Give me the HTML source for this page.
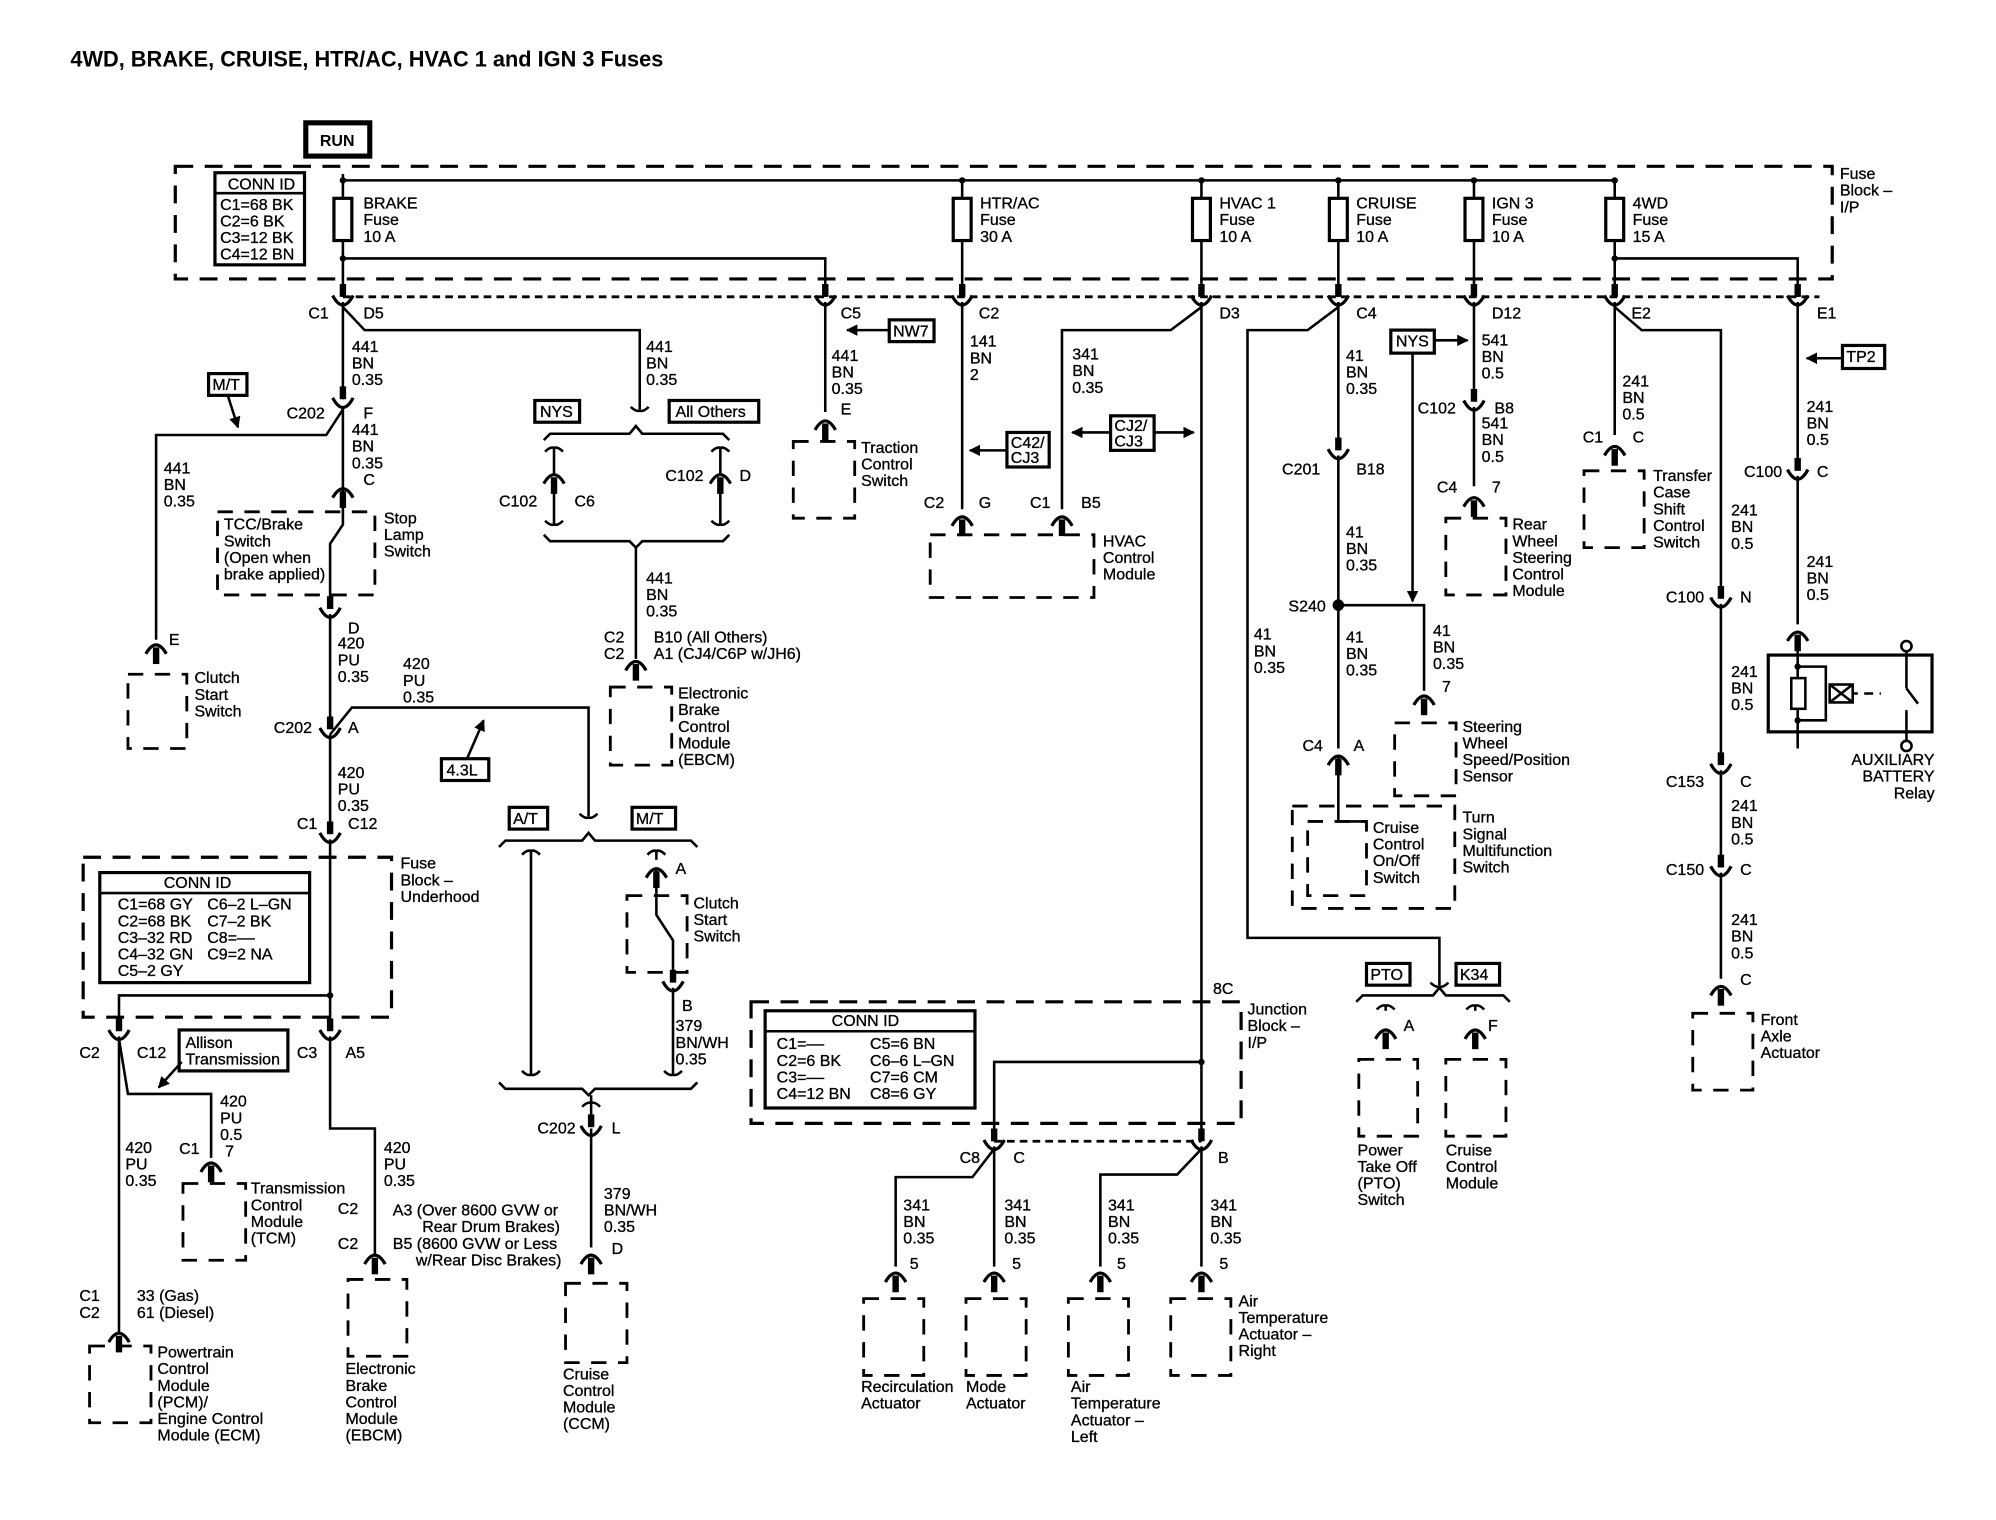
<!DOCTYPE html>
<html><head><meta charset="utf-8"><style>
html,body{margin:0;padding:0;background:#fff}
svg{display:block}
text{font-family:"Liberation Sans",Arial,sans-serif;font-size:12.5px;fill:#000;stroke:#000;stroke-width:0.25}
.w{fill:none;stroke:#000;stroke-width:2}
.d{fill:none;stroke:#000;stroke-width:2.5;stroke-dasharray:14 9}
.dd{fill:none;stroke:#000;stroke-width:2.2;stroke-dasharray:6 4}
.cd{fill:none;stroke:#000;stroke-width:2.2;stroke-dasharray:12 9}
.bx{fill:#fff;stroke:#000;stroke-width:2.5}
</style></head><body>
<svg width="1996" height="1520" viewBox="0 0 1560 1188" preserveAspectRatio="none" xmlns="http://www.w3.org/2000/svg">
<defs>
<g id="f"><rect x="-2.5" y="-14" width="5" height="10" fill="#000"/><path d="M-8,-5 Q0,10 8,-5" fill="none" stroke="#000" stroke-width="2.5"/></g>
<g id="m"><path d="M-8,6 Q0,-8 8,6" fill="none" stroke="#000" stroke-width="2.5"/><rect x="-2.5" y="1" width="5" height="13" fill="#000"/></g>
<g id="t"><path d="M-7,3 Q-3,-1 0,0 Q3,-1 7,3" fill="none" stroke="#000" stroke-width="2"/></g>
<g id="b"><path d="M-7,-3 Q-3,1 0,0 Q3,1 7,-3" fill="none" stroke="#000" stroke-width="2"/></g>
<marker id="ar" viewBox="0 0 10 10" refX="9" refY="5" markerWidth="9" markerHeight="9" orient="auto" markerUnits="userSpaceOnUse"><path d="M0,0 L10,5 L0,10z" fill="#000"/></marker>
</defs>

<text x="55" y="52" style="font-size:17px;font-weight:bold;stroke-width:0">4WD, BRAKE, CRUISE, HTR/AC, HVAC 1 and IGN 3 Fuses</text>

<!-- RUN -->
<rect x="239" y="96" width="50" height="26" fill="#fff" stroke="#000" stroke-width="4"/>
<text x="250" y="114" style="font-weight:bold;stroke-width:0">RUN</text>

<!-- Fuse block I/P -->
<rect x="137" y="130" width="1295" height="88" class="d"/>
<text x="1438" y="140">Fuse<tspan x="1438" dy="13">Block –</tspan><tspan x="1438" dy="13">I/P</tspan></text>
<rect x="168" y="135" width="70" height="72" class="bx" stroke-width="2"/>
<line x1="168" y1="151" x2="238" y2="151" class="w"/>
<text x="178" y="148">CONN ID</text>
<text x="172" y="164">C1=68 BK<tspan x="172" dy="13">C2=6 BK</tspan><tspan x="172" dy="13">C3=12 BK</tspan><tspan x="172" dy="13">C4=12 BN</tspan></text>

<line x1="268" y1="141" x2="1262" y2="141" class="w"/>
<line x1="268" y1="136" x2="268" y2="232" class="w"/>
<g fill="#000"><circle cx="268" cy="141" r="2.5"/><circle cx="752" cy="141" r="2.5"/><circle cx="939" cy="141" r="2.5"/><circle cx="1046" cy="141" r="2.5"/><circle cx="1152" cy="141" r="2.5"/><circle cx="1262" cy="141" r="2.5"/><circle cx="268" cy="202" r="2.5"/><circle cx="1262" cy="202" r="2.5"/></g>
<g class="w">
<line x1="752" y1="141" x2="752" y2="232"/><line x1="939" y1="141" x2="939" y2="232"/><line x1="1046" y1="141" x2="1046" y2="232"/><line x1="1152" y1="141" x2="1152" y2="232"/><line x1="1262" y1="141" x2="1262" y2="232"/>
<polyline points="268,202 645,202 645,232"/><polyline points="1262,202 1405,202 1405,232"/>
</g>
<g fill="#fff" stroke="#000" stroke-width="2.5">
<rect x="261" y="155" width="14" height="33"/><rect x="745" y="155" width="14" height="33"/><rect x="932" y="155" width="14" height="33"/><rect x="1039" y="155" width="14" height="33"/><rect x="1145" y="155" width="14" height="33"/><rect x="1255" y="155" width="14" height="33"/>
</g>
<text x="284" y="163">BRAKE<tspan x="284" dy="13">Fuse</tspan><tspan x="284" dy="13">10 A</tspan></text>
<text x="766" y="163">HTR/AC<tspan x="766" dy="13">Fuse</tspan><tspan x="766" dy="13">30 A</tspan></text>
<text x="953" y="163">HVAC 1<tspan x="953" dy="13">Fuse</tspan><tspan x="953" dy="13">10 A</tspan></text>
<text x="1060" y="163">CRUISE<tspan x="1060" dy="13">Fuse</tspan><tspan x="1060" dy="13">10 A</tspan></text>
<text x="1166" y="163">IGN 3<tspan x="1166" dy="13">Fuse</tspan><tspan x="1166" dy="13">10 A</tspan></text>
<text x="1276" y="163">4WD<tspan x="1276" dy="13">Fuse</tspan><tspan x="1276" dy="13">15 A</tspan></text>

<line x1="268" y1="232" x2="1422" y2="232" class="dd"/>
<g><use href="#f" x="268" y="236"/><use href="#f" x="645" y="236"/><use href="#f" x="752" y="236"/><use href="#f" x="939" y="236"/><use href="#f" x="1046" y="236"/><use href="#f" x="1152" y="236"/><use href="#f" x="1262" y="236"/><use href="#f" x="1405" y="236"/></g>
<text x="241" y="249">C1</text><text x="284" y="249">D5</text><text x="657" y="249">C5</text><text x="765" y="249">C2</text><text x="953" y="249">D3</text><text x="1060" y="249">C4</text><text x="1166" y="249">D12</text><text x="1275" y="249">E2</text><text x="1420" y="249">E1</text>

<!-- BRAKE column -->
<g class="w">
<line x1="268" y1="236" x2="268" y2="312"/>
<polyline points="268,240 285,258 500,258 500,320"/>
<polyline points="268,320 255,340 122,340 122,500"/>
<line x1="268" y1="318" x2="268" y2="385"/>
<polyline points="268,392 268,410 258,425 258,472"/>
<line x1="258" y1="480" x2="258" y2="565"/>
<polyline points="258,574 275,553 460,553 460,638"/>
<line x1="258" y1="574" x2="258" y2="650"/>
<line x1="258" y1="656" x2="258" y2="805"/>
<polyline points="258,778 93,778 93,805"/>
</g>
<use href="#b" x="500" y="321"/>
<use href="#f" x="268" y="316"/>
<text x="275" y="275">441<tspan x="275" dy="13">BN</tspan><tspan x="275" dy="13">0.35</tspan></text>
<text x="505" y="275">441<tspan x="505" dy="13">BN</tspan><tspan x="505" dy="13">0.35</tspan></text>
<text x="224" y="327">C202</text><text x="284" y="327">F</text>
<text x="275" y="340">441<tspan x="275" dy="13">BN</tspan><tspan x="275" dy="13">0.35</tspan></text>
<text x="128" y="370">441<tspan x="128" dy="13">BN</tspan><tspan x="128" dy="13">0.35</tspan></text>
<rect x="163" y="292" width="30" height="17" class="bx" stroke-width="2"/><text x="166" y="305">M/T</text>
<line x1="178" y1="309" x2="186" y2="334" class="w" marker-end="url(#ar)"/>
<use href="#m" x="268" y="383"/><text x="284" y="379">C</text>
<rect x="170" y="400" width="123" height="65" class="cd"/>
<text x="175" y="414">TCC/Brake<tspan x="175" dy="13">Switch</tspan><tspan x="175" dy="13">(Open when</tspan><tspan x="175" dy="13">brake applied)</tspan></text>
<text x="300" y="409">Stop<tspan x="300" dy="13">Lamp</tspan><tspan x="300" dy="13">Switch</tspan></text>
<use href="#f" x="258" y="480"/><text x="272" y="495">D</text>
<use href="#m" x="122" y="505"/><text x="132" y="504">E</text>
<rect x="100" y="527" width="46" height="58" class="cd"/>
<text x="152" y="534">Clutch<tspan x="152" dy="13">Start</tspan><tspan x="152" dy="13">Switch</tspan></text>
<text x="264" y="507">420<tspan x="264" dy="13">PU</tspan><tspan x="264" dy="13">0.35</tspan></text>
<text x="315" y="523">420<tspan x="315" dy="13">PU</tspan><tspan x="315" dy="13">0.35</tspan></text>
<use href="#f" x="258" y="574"/><text x="214" y="573">C202</text><text x="272" y="573">A</text>
<rect x="345" y="593" width="37" height="17" class="bx" stroke-width="2"/><text x="349" y="606">4.3L</text>
<line x1="365" y1="593" x2="378" y2="563" class="w" marker-end="url(#ar)"/>
<text x="264" y="608">420<tspan x="264" dy="13">PU</tspan><tspan x="264" dy="13">0.35</tspan></text>
<use href="#f" x="258" y="656"/><text x="232" y="648">C1</text><text x="272" y="648">C12</text>

<!-- Fuse block underhood -->
<rect x="65" y="670" width="241" height="125" class="d"/>
<text x="313" y="679">Fuse<tspan x="313" dy="13">Block –</tspan><tspan x="313" dy="13">Underhood</tspan></text>
<rect x="78" y="682" width="164" height="86" class="bx" stroke-width="2"/>
<line x1="78" y1="698" x2="242" y2="698" class="w"/>
<text x="128" y="694">CONN ID</text>
<text x="92" y="711">C1=68 GY<tspan x="92" dy="13">C2=68 BK</tspan><tspan x="92" dy="13">C3–32 RD</tspan><tspan x="92" dy="13">C4–32 GN</tspan><tspan x="92" dy="13">C5–2 GY</tspan></text>
<text x="162" y="711">C6–2 L–GN<tspan x="162" dy="13">C7–2 BK</tspan><tspan x="162" dy="13">C8=––</tspan><tspan x="162" dy="13">C9=2 NA</tspan></text>
<circle cx="258" cy="778" r="2.5"/>
<use href="#f" x="93" y="810"/><use href="#f" x="258" y="810"/>
<text x="62" y="827">C2</text><text x="107" y="827">C12</text><text x="232" y="827">C3</text><text x="270" y="827">A5</text>
<rect x="140" y="805" width="85" height="32" class="bx" stroke-width="2"/>
<text x="145" y="819">Allison<tspan x="145" dy="13">Transmission</tspan></text>
<line x1="142" y1="830" x2="124" y2="850" class="w" marker-end="url(#ar)"/>
<g class="w">
<line x1="93" y1="810" x2="93" y2="1042"/>
<polyline points="93,812 100,855 165,855 165,905"/>
<polyline points="258,810 258,882 293,882 293,980"/>
</g>
<text x="172" y="865">420<tspan x="172" dy="13">PU</tspan><tspan x="172" dy="13">0.5</tspan><tspan x="176" dy="13">7</tspan></text>
<text x="98" y="901">420<tspan x="98" dy="13">PU</tspan><tspan x="98" dy="13">0.35</tspan></text>
<text x="140" y="902">C1</text>
<use href="#m" x="165" y="910"/>
<rect x="143" y="925" width="49" height="60" class="cd"/>
<text x="196" y="933">Transmission<tspan x="196" dy="13">Control</tspan><tspan x="196" dy="13">Module</tspan><tspan x="196" dy="13">(TCM)</tspan></text>
<text x="62" y="1017">C1<tspan x="62" dy="13">C2</tspan></text>
<text x="107" y="1017">33 (Gas)<tspan x="107" dy="13">61 (Diesel)</tspan></text>
<use href="#m" x="93" y="1043"/>
<rect x="70" y="1052" width="48" height="60" class="cd"/>
<text x="123" y="1061">Powertrain<tspan x="123" dy="13">Control</tspan><tspan x="123" dy="13">Module</tspan><tspan x="123" dy="13">(PCM)/</tspan><tspan x="123" dy="13">Engine Control</tspan><tspan x="123" dy="13">Module (ECM)</tspan></text>
<text x="300" y="901">420<tspan x="300" dy="13">PU</tspan><tspan x="300" dy="13">0.35</tspan></text>
<text x="264" y="949">C2</text><text x="264" y="976">C2</text>
<text x="307" y="950">A3 (Over 8600 GVW or<tspan x="330" dy="13">Rear Drum Brakes)</tspan><tspan x="307" dy="13">B5 (8600 GVW or Less</tspan><tspan x="325" dy="13">w/Rear Disc Brakes)</tspan></text>
<use href="#m" x="293" y="982"/>
<rect x="272" y="1000" width="46" height="60" class="cd"/>
<text x="270" y="1074">Electronic<tspan x="270" dy="13">Brake</tspan><tspan x="270" dy="13">Control</tspan><tspan x="270" dy="13">Module</tspan><tspan x="270" dy="13">(EBCM)</tspan></text>

<!-- NYS / All Others -->
<rect x="418" y="313" width="35" height="17" class="bx" stroke-width="2"/><text x="422" y="326">NYS</text>
<rect x="523" y="313" width="70" height="17" class="bx" stroke-width="2"/><text x="528" y="326">All Others</text>
<g class="w">
<polyline points="425,344 430,339 492,339 497,333 502,339 565,339 570,344"/>
<polyline points="425,418 430,423 492,423 497,428 502,423 565,423 570,418"/>
<line x1="433" y1="350" x2="433" y2="370"/><line x1="433" y1="385" x2="433" y2="410"/>
<line x1="563" y1="350" x2="563" y2="370"/><line x1="563" y1="385" x2="563" y2="410"/>
<line x1="497" y1="428" x2="497" y2="515"/>
</g>
<use href="#t" x="433" y="350"/><use href="#b" x="433" y="410"/><use href="#t" x="563" y="350"/><use href="#b" x="563" y="410"/>
<use href="#m" x="433" y="372"/><use href="#m" x="563" y="372"/>
<text x="390" y="396">C102</text><text x="449" y="396">C6</text>
<text x="520" y="376">C102</text><text x="578" y="376">D</text>
<text x="505" y="456">441<tspan x="505" dy="13">BN</tspan><tspan x="505" dy="13">0.35</tspan></text>
<text x="472" y="502">C2<tspan x="472" dy="13">C2</tspan></text>
<text x="511" y="502">B10 (All Others)<tspan x="511" dy="13">A1 (CJ4/C6P w/JH6)</tspan></text>
<use href="#m" x="497" y="518"/>
<rect x="477" y="537" width="48" height="61" class="cd"/>
<text x="530" y="546">Electronic<tspan x="530" dy="13">Brake</tspan><tspan x="530" dy="13">Control</tspan><tspan x="530" dy="13">Module</tspan><tspan x="530" dy="13">(EBCM)</tspan></text>

<!-- A/T M/T -->
<use href="#b" x="460" y="639"/>
<rect x="398" y="631" width="30" height="17" class="bx" stroke-width="2"/><text x="401" y="644">A/T</text>
<rect x="494" y="631" width="34" height="17" class="bx" stroke-width="2"/><text x="497" y="644">M/T</text>
<g class="w">
<polyline points="390,662 395,657 455,657 460,651 465,657 540,657 545,662"/>
<polyline points="390,846 395,851 455,851 460,856 465,851 540,851 545,846"/>
<line x1="415" y1="665" x2="415" y2="840"/>
<line x1="513" y1="665" x2="513" y2="672"/>
<polyline points="513,680 513,705 513,715 526,735 526,762"/>
<line x1="526" y1="772" x2="526" y2="840"/>
<line x1="462" y1="856" x2="462" y2="875"/>
<line x1="462" y1="882" x2="462" y2="975"/>
</g>
<use href="#t" x="415" y="665"/><use href="#b" x="415" y="840"/><use href="#t" x="513" y="665"/><use href="#b" x="526" y="840"/>
<use href="#m" x="513" y="680"/><text x="528" y="683">A</text>
<rect x="490" y="700" width="47" height="60" class="cd"/>
<text x="542" y="710">Clutch<tspan x="542" dy="13">Start</tspan><tspan x="542" dy="13">Switch</tspan></text>
<use href="#f" x="526" y="772"/><text x="533" y="790">B</text>
<text x="528" y="806">379<tspan x="528" dy="13">BN/WH</tspan><tspan x="528" dy="13">0.35</tspan></text>
<use href="#t" x="462" y="862"/>
<use href="#f" x="462" y="885"/><text x="420" y="886">C202</text><text x="478" y="886">L</text>
<text x="472" y="937">379<tspan x="472" dy="13">BN/WH</tspan><tspan x="472" dy="13">0.35</tspan></text>
<text x="478" y="980">D</text>
<use href="#m" x="462" y="982"/>
<rect x="442" y="1003" width="48" height="62" class="cd"/>
<text x="440" y="1078">Cruise<tspan x="440" dy="13">Control</tspan><tspan x="440" dy="13">Module</tspan><tspan x="440" dy="13">(CCM)</tspan></text>

<!-- C5 traction -->
<line x1="645" y1="236" x2="645" y2="322" class="w"/>
<text x="650" y="282">441<tspan x="650" dy="13">BN</tspan><tspan x="650" dy="13">0.35</tspan></text>
<rect x="695" y="250" width="35" height="17" class="bx" stroke-width="2"/><text x="698" y="263">NW7</text>
<line x1="695" y1="258" x2="662" y2="258" class="w" marker-end="url(#ar)"/>
<text x="657" y="324">E</text>
<use href="#m" x="645" y="330"/>
<rect x="620" y="345" width="48" height="60" class="cd"/>
<text x="673" y="354">Traction<tspan x="673" dy="13">Control</tspan><tspan x="673" dy="13">Switch</tspan></text>

<!-- HTR/AC HVAC -->
<line x1="752" y1="236" x2="752" y2="398" class="w"/>
<text x="758" y="271">141<tspan x="758" dy="13">BN</tspan><tspan x="758" dy="13">2</tspan></text>
<rect x="787" y="338" width="33" height="27" class="bx" stroke-width="2"/><text x="790" y="350">C42/<tspan x="790" dy="12">CJ3</tspan></text>
<line x1="787" y1="352" x2="758" y2="352" class="w" marker-end="url(#ar)"/>
<polyline points="939,240 915,258 830,258 830,398" class="w"/>
<text x="838" y="281">341<tspan x="838" dy="13">BN</tspan><tspan x="838" dy="13">0.35</tspan></text>
<rect x="868" y="325" width="34" height="27" class="bx" stroke-width="2"/><text x="871" y="337">CJ2/<tspan x="871" dy="12">CJ3</tspan></text>
<line x1="868" y1="338" x2="838" y2="338" class="w" marker-end="url(#ar)"/>
<line x1="902" y1="338" x2="933" y2="338" class="w" marker-end="url(#ar)"/>
<text x="722" y="397">C2</text><text x="765" y="397">G</text><text x="805" y="397">C1</text><text x="845" y="397">B5</text>
<use href="#m" x="752" y="405"/><use href="#m" x="830" y="405"/>
<rect x="727" y="418" width="128" height="49" class="cd"/>
<text x="862" y="427">HVAC<tspan x="862" dy="13">Control</tspan><tspan x="862" dy="13">Module</tspan></text>

<!-- HVAC1 to junction block -->
<line x1="939" y1="236" x2="939" y2="885" class="w"/>
<text x="948" y="777">8C</text>
<rect x="587" y="783" width="383" height="95" class="d"/>
<text x="975" y="793">Junction<tspan x="975" dy="13">Block –</tspan><tspan x="975" dy="13">I/P</tspan></text>
<rect x="598" y="790" width="164" height="76" class="bx" stroke-width="2"/>
<line x1="598" y1="806" x2="762" y2="806" class="w"/>
<text x="650" y="802">CONN ID</text>
<text x="607" y="820">C1=––<tspan x="607" dy="13">C2=6 BK</tspan><tspan x="607" dy="13">C3=––</tspan><tspan x="607" dy="13">C4=12 BN</tspan></text>
<text x="680" y="820">C5=6 BN<tspan x="680" dy="13">C6–6 L–GN</tspan><tspan x="680" dy="13">C7=6 CM</tspan><tspan x="680" dy="13">C8=6 GY</tspan></text>
<circle cx="939" cy="830" r="2.5"/>
<polyline points="939,830 777,830 777,885" class="w"/>
<line x1="777" y1="892" x2="939" y2="892" class="dd"/>
<use href="#f" x="777" y="896"/><use href="#f" x="939" y="896"/>
<text x="750" y="909">C8</text><text x="792" y="909">C</text><text x="952" y="909">B</text>
<g class="w">
<line x1="777" y1="896" x2="777" y2="990"/>
<polyline points="777,898 760,920 700,920 700,990"/>
<line x1="939" y1="896" x2="939" y2="990"/>
<polyline points="939,898 920,918 860,918 860,990"/>
</g>
<text x="706" y="946">341<tspan x="706" dy="13">BN</tspan><tspan x="706" dy="13">0.35</tspan></text>
<text x="785" y="946">341<tspan x="785" dy="13">BN</tspan><tspan x="785" dy="13">0.35</tspan></text>
<text x="866" y="946">341<tspan x="866" dy="13">BN</tspan><tspan x="866" dy="13">0.35</tspan></text>
<text x="946" y="946">341<tspan x="946" dy="13">BN</tspan><tspan x="946" dy="13">0.35</tspan></text>
<text x="711" y="992">5</text><text x="791" y="992">5</text><text x="873" y="992">5</text><text x="953" y="992">5</text>
<use href="#m" x="700" y="996"/><use href="#m" x="777" y="996"/><use href="#m" x="860" y="996"/><use href="#m" x="939" y="996"/>
<rect x="675" y="1015" width="47" height="60" class="cd"/><rect x="755" y="1015" width="47" height="60" class="cd"/><rect x="835" y="1015" width="47" height="60" class="cd"/><rect x="915" y="1015" width="47" height="60" class="cd"/>
<text x="673" y="1088">Recirculation<tspan x="673" dy="13">Actuator</tspan></text>
<text x="755" y="1088">Mode<tspan x="755" dy="13">Actuator</tspan></text>
<text x="837" y="1088">Air<tspan x="837" dy="13">Temperature</tspan><tspan x="837" dy="13">Actuator –</tspan><tspan x="837" dy="13">Left</tspan></text>
<text x="968" y="1021">Air<tspan x="968" dy="13">Temperature</tspan><tspan x="968" dy="13">Actuator –</tspan><tspan x="968" dy="13">Right</tspan></text>

<!-- CRUISE column -->
<g class="w">
<polyline points="1046,240 1022,258 975,258 975,733 1125,733 1125,770"/>
<line x1="1046" y1="236" x2="1046" y2="350"/>
<line x1="1046" y1="356" x2="1046" y2="585"/>
<polyline points="1046,473 1113,473 1113,540"/>
<line x1="1046" y1="592" x2="1046" y2="635"/>
</g>
<use href="#b" x="1125" y="771"/>
<text x="1052" y="282">41<tspan x="1052" dy="13">BN</tspan><tspan x="1052" dy="13">0.35</tspan></text>
<use href="#f" x="1046" y="356"/><text x="1002" y="371">C201</text><text x="1060" y="371">B18</text>
<text x="1052" y="420">41<tspan x="1052" dy="13">BN</tspan><tspan x="1052" dy="13">0.35</tspan></text>
<circle cx="1046" cy="473" r="4.5"/><text x="1007" y="478">S240</text>
<text x="980" y="500">41<tspan x="980" dy="13">BN</tspan><tspan x="980" dy="13">0.35</tspan></text>
<text x="1052" y="502">41<tspan x="1052" dy="13">BN</tspan><tspan x="1052" dy="13">0.35</tspan></text>
<text x="1120" y="497">41<tspan x="1120" dy="13">BN</tspan><tspan x="1120" dy="13">0.35</tspan></text>
<text x="1127" y="541">7</text>
<use href="#m" x="1113" y="545"/>
<rect x="1090" y="565" width="48" height="57" class="cd"/>
<text x="1143" y="572">Steering<tspan x="1143" dy="13">Wheel</tspan><tspan x="1143" dy="13">Speed/Position</tspan><tspan x="1143" dy="13">Sensor</tspan></text>
<text x="1018" y="587">C4</text><text x="1058" y="587">A</text>
<use href="#m" x="1046" y="592"/>
<rect x="1010" y="630" width="127" height="80" class="cd"/>
<rect x="1022" y="642" width="46" height="58" class="cd"/>
<line x1="1046" y1="635" x2="1046" y2="642" class="w"/><line x1="1046" y1="642" x2="1068" y2="642" class="w"/>
<text x="1073" y="651">Cruise<tspan x="1073" dy="13">Control</tspan><tspan x="1073" dy="13">On/Off</tspan><tspan x="1073" dy="13">Switch</tspan></text>
<text x="1143" y="643">Turn<tspan x="1143" dy="13">Signal</tspan><tspan x="1143" dy="13">Multifunction</tspan><tspan x="1143" dy="13">Switch</tspan></text>

<rect x="1087" y="258" width="34" height="18" class="bx" stroke-width="2"/><text x="1091" y="271">NYS</text>
<line x1="1121" y1="266" x2="1147" y2="266" class="w" marker-end="url(#ar)"/>
<line x1="1104" y1="276" x2="1104" y2="470" class="w" marker-end="url(#ar)"/>

<!-- PTO K34 -->
<rect x="1068" y="753" width="34" height="17" class="bx" stroke-width="2"/><text x="1071" y="766">PTO</text>
<rect x="1138" y="753" width="34" height="17" class="bx" stroke-width="2"/><text x="1141" y="766">K34</text>
<g class="w">
<polyline points="1060,783 1065,778 1120,778 1125,772 1130,778 1175,778 1180,783"/>
<line x1="1083" y1="786" x2="1083" y2="790"/><line x1="1153" y1="786" x2="1153" y2="790"/>
</g>
<use href="#t" x="1083" y="786"/><use href="#t" x="1153" y="786"/>
<use href="#m" x="1083" y="806"/><use href="#m" x="1153" y="806"/>
<text x="1097" y="806">A</text><text x="1163" y="806">F</text>
<rect x="1062" y="828" width="46" height="60" class="cd"/><rect x="1130" y="828" width="47" height="60" class="cd"/>
<text x="1061" y="903">Power<tspan x="1061" dy="13">Take Off</tspan><tspan x="1061" dy="13">(PTO)</tspan><tspan x="1061" dy="13">Switch</tspan></text>
<text x="1130" y="903">Cruise<tspan x="1130" dy="13">Control</tspan><tspan x="1130" dy="13">Module</tspan></text>

<!-- IGN3 -->
<line x1="1152" y1="236" x2="1152" y2="312" class="w"/>
<line x1="1152" y1="318" x2="1152" y2="380" class="w"/>
<text x="1158" y="270">541<tspan x="1158" dy="13">BN</tspan><tspan x="1158" dy="13">0.5</tspan></text>
<use href="#f" x="1152" y="318"/><text x="1108" y="323">C102</text><text x="1168" y="323">B8</text>
<text x="1158" y="335">541<tspan x="1158" dy="13">BN</tspan><tspan x="1158" dy="13">0.5</tspan></text>
<text x="1123" y="385">C4</text><text x="1166" y="385">7</text>
<use href="#m" x="1152" y="390"/>
<rect x="1130" y="405" width="47" height="60" class="cd"/>
<text x="1182" y="414">Rear<tspan x="1182" dy="13">Wheel</tspan><tspan x="1182" dy="13">Steering</tspan><tspan x="1182" dy="13">Control</tspan><tspan x="1182" dy="13">Module</tspan></text>

<!-- 4WD -->
<g class="w">
<line x1="1262" y1="236" x2="1262" y2="340"/>
<polyline points="1262,240 1283,258 1345,258 1345,465"/>
<line x1="1345" y1="472" x2="1345" y2="595"/>
<line x1="1345" y1="602" x2="1345" y2="675"/>
<line x1="1345" y1="682" x2="1345" y2="765"/>
<line x1="1405" y1="236" x2="1405" y2="365"/>
<line x1="1405" y1="372" x2="1405" y2="488"/>
</g>
<text x="1268" y="302">241<tspan x="1268" dy="13">BN</tspan><tspan x="1268" dy="13">0.5</tspan></text>
<text x="1237" y="346">C1</text><text x="1276" y="346">C</text>
<use href="#m" x="1262" y="350"/>
<rect x="1238" y="368" width="47" height="60" class="cd"/>
<text x="1292" y="376">Transfer<tspan x="1292" dy="13">Case</tspan><tspan x="1292" dy="13">Shift</tspan><tspan x="1292" dy="13">Control</tspan><tspan x="1292" dy="13">Switch</tspan></text>
<text x="1353" y="403">241<tspan x="1353" dy="13">BN</tspan><tspan x="1353" dy="13">0.5</tspan></text>
<use href="#f" x="1345" y="472"/><text x="1302" y="471">C100</text><text x="1360" y="471">N</text>
<text x="1353" y="529">241<tspan x="1353" dy="13">BN</tspan><tspan x="1353" dy="13">0.5</tspan></text>
<use href="#f" x="1345" y="602"/><text x="1302" y="615">C153</text><text x="1360" y="615">C</text>
<text x="1353" y="634">241<tspan x="1353" dy="13">BN</tspan><tspan x="1353" dy="13">0.5</tspan></text>
<use href="#f" x="1345" y="682"/><text x="1302" y="684">C150</text><text x="1360" y="684">C</text>
<text x="1353" y="723">241<tspan x="1353" dy="13">BN</tspan><tspan x="1353" dy="13">0.5</tspan></text>
<text x="1360" y="770">C</text>
<use href="#m" x="1345" y="772"/>
<rect x="1323" y="792" width="47" height="60" class="cd"/>
<text x="1376" y="801">Front<tspan x="1376" dy="13">Axle</tspan><tspan x="1376" dy="13">Actuator</tspan></text>

<!-- E1 -->
<rect x="1440" y="270" width="33" height="18" class="bx" stroke-width="2"/><text x="1443" y="283">TP2</text>
<line x1="1440" y1="280" x2="1412" y2="280" class="w" marker-end="url(#ar)"/>
<text x="1412" y="322">241<tspan x="1412" dy="13">BN</tspan><tspan x="1412" dy="13">0.5</tspan></text>
<use href="#f" x="1405" y="372"/><text x="1363" y="373">C100</text><text x="1420" y="373">C</text>
<text x="1412" y="443">241<tspan x="1412" dy="13">BN</tspan><tspan x="1412" dy="13">0.5</tspan></text>
<use href="#m" x="1405" y="495"/>
<rect x="1382" y="512" width="128" height="60" fill="none" stroke="#000" stroke-width="2.5"/>
<g class="w">
<line x1="1405" y1="505" x2="1405" y2="585"/>
<polyline points="1405,521 1427,521 1427,563 1405,563"/>
<line x1="1445" y1="542" x2="1470" y2="542" stroke-dasharray="7 5"/>
<line x1="1490" y1="505" x2="1490" y2="538"/><line x1="1490" y1="538" x2="1499" y2="550"/>
<line x1="1490" y1="555" x2="1490" y2="585"/>
</g>
<circle cx="1405" cy="521" r="2.5"/><circle cx="1405" cy="563" r="2.5"/>
<rect x="1400" y="530" width="11" height="24" fill="#fff" stroke="#000" stroke-width="2"/>
<rect x="1430" y="535" width="18" height="14" fill="#fff" stroke="#000" stroke-width="2"/>
<path d="M1430,535 L1448,549 M1448,535 L1430,549" stroke="#000" stroke-width="2"/>
<circle cx="1490" cy="505" r="4" fill="#fff" stroke="#000" stroke-width="2"/>
<circle cx="1490" cy="583" r="4" fill="#fff" stroke="#000" stroke-width="2"/>
<text x="1512" y="598" text-anchor="end">AUXILIARY<tspan x="1512" dy="13">BATTERY</tspan><tspan x="1512" dy="13">Relay</tspan></text>
</svg>
</body></html>
